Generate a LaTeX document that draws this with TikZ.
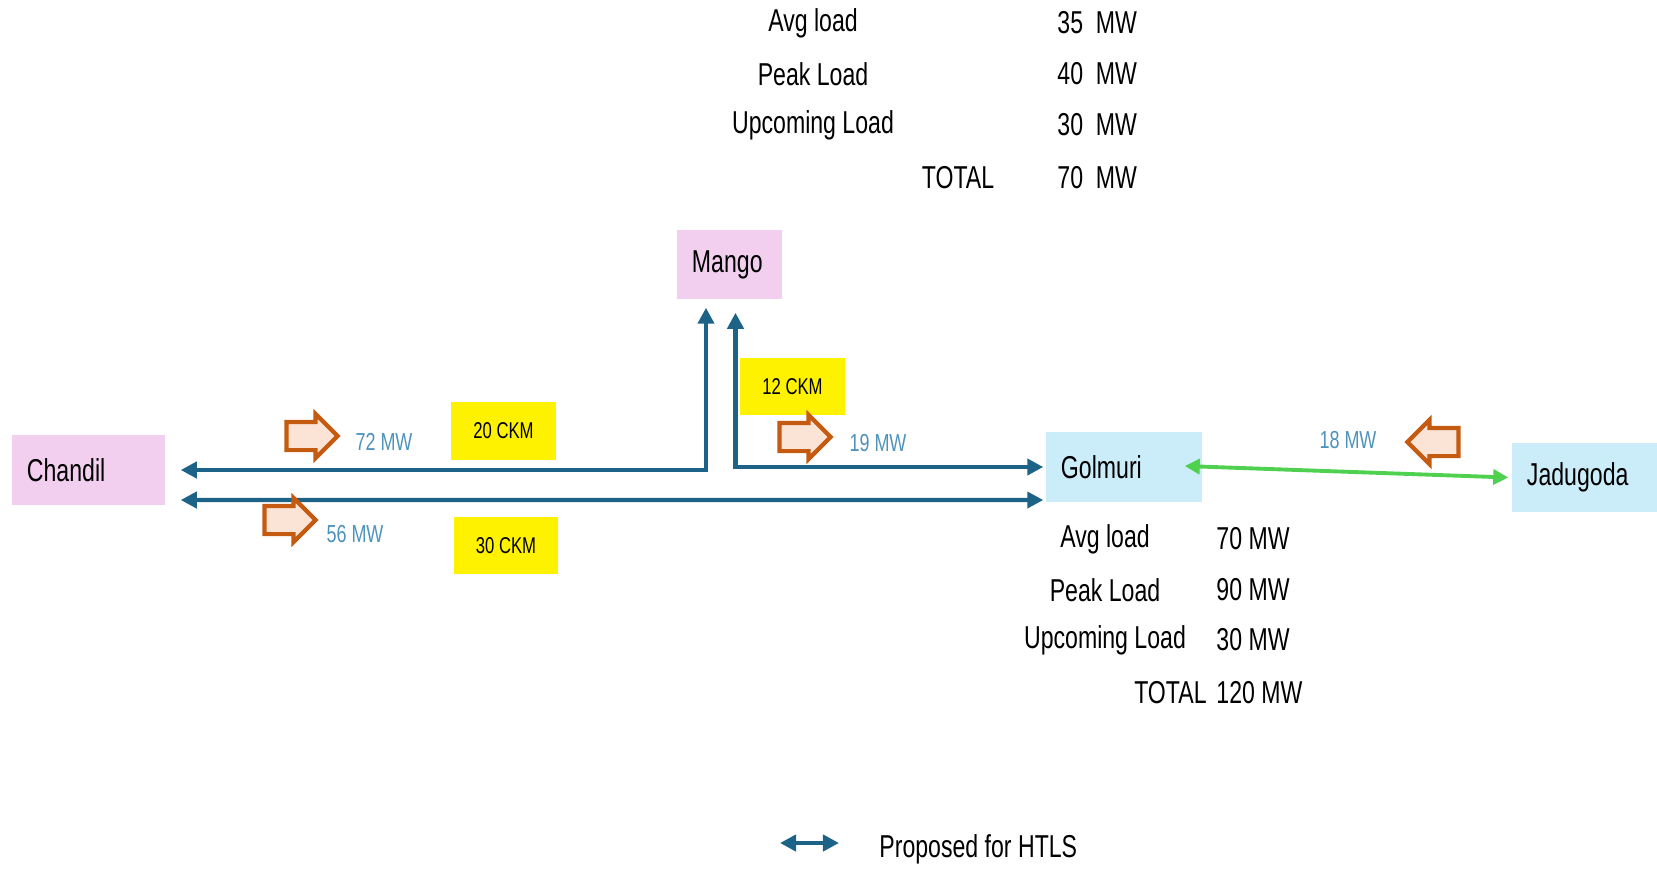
\documentclass[tikz,border=0pt]{standalone}
\usepackage{fontspec}
\setmainfont{Liberation Sans}[FakeStretch=0.73]
\usepackage{tikz}
\usetikzlibrary{arrows.meta,shapes.arrows}
\definecolor{htlsblue}{HTML}{1D6387}
\definecolor{pinkbox}{HTML}{F2CFEE}
\definecolor{bluebox}{HTML}{CBEDFA}
\definecolor{flowedge}{HTML}{C55A11}
\definecolor{flowfill}{HTML}{FBE3D6}
\definecolor{mwblue}{HTML}{4E93BC}
\definecolor{linkgreen}{HTML}{4FD14F}

\begin{document}
\begin{tikzpicture}[x=0.01cm,y=-0.01cm,font=\fontsize{9}{11}\selectfont,
  station/.style={inner xsep=0.15cm,align=left,minimum height=0.69cm},
  ckm/.style={fill=yellow,minimum width=1.04cm,minimum height=0.57cm,font=\fontsize{6.5}{8}\selectfont},
  mw/.style={text=mwblue,font=\fontsize{7}{8}\selectfont},
  flow/.style={single arrow,draw=flowedge,fill=flowfill,line width=1.2pt,inner xsep=0pt,inner ysep=0.12cm,minimum height=0.51cm,single arrow head extend=0.08cm},
  htls/.style={<->,>={Triangle[length=0.16cm,width=0.16cm]},htlsblue,line width=1.2pt},
  green/.style={<->,>={Triangle[length=0.15cm,width=0.15cm]},linkgreen,line width=1.1pt}]
\useasboundingbox (0,0) rectangle (1657,872);

% load table of Mango
\node (ma1) at (813,23) {Avg load};
\node (ma2) at (813,74) {Peak Load};
\node (ma3) at (813,125) {Upcoming Load};
\node (ma4) at (958,178) {TOTAL};
\node [anchor=west] (mv1) at (1045,23) {35~ MW};
\node [anchor=west] (mv2) at (1045,74) {40~ MW};
\node [anchor=west] (mv3) at (1045,125) {30~ MW};
\node [anchor=west] (mv4) at (1045,178) {70~ MW};

% substations
\node [station,fill=pinkbox,text width=0.75cm] (mango) at (729.5,264.5) {Mango};
\node [station,fill=pinkbox,text width=1.23cm] (chandil) at (88.5,470) {Chandil};
\node [station,fill=bluebox,text width=1.26cm] (golmuri) at (1124,467) {Golmuri};
\node [station,fill=bluebox,text width=1.30cm] (jadugoda) at (1592,477.5) {Jadugoda};

\node [ckm] (ck1) at (503.5,431) {20 CKM};
\node [ckm] (ck2) at (506,545.5) {30 CKM};
\node [ckm] (ck3) at (792.5,386.5) {12 CKM};

\draw [htls] ([xshift=0.15cm]chandil.east) -| ([xshift=-0.235cm,yshift=-0.08cm]mango.south);
\draw [htls] ([xshift=0.06cm,yshift=-0.13cm]mango.south) |- ([xshift=-0.02cm]golmuri.west);
\draw [htls] ([xshift=0.15cm,yshift=-0.30cm]chandil.east) -- ([xshift=-0.02cm,yshift=-0.33cm]golmuri.west);
\draw [green] ([xshift=-0.18cm,yshift=0.01cm]golmuri.east) -- ([xshift=-0.03cm]jadugoda.west);

% power flow
\node [flow] (f1) at (305,436) {};
\node [mw] (w1) at (384,442) {72 MW};
\node [flow] (f2) at (283,520) {};
\node [mw] (w2) at (355,534) {56 MW};
\node [flow] (f3) at (798,437) {};
\node [mw] (w3) at (878,443) {19 MW};
\node [flow,shape border rotate=180] (f4) at (1440,442) {};
\node [mw] (w4) at (1348,440) {18 MW};

% load table of Golmuri
\node (ga1) at (1105,539) {Avg load};
\node (ga2) at (1105,590) {Peak Load};
\node (ga3) at (1105,640) {Upcoming Load};
\node [anchor=east] (ga4) at (1219,693) {TOTAL};
\node [anchor=west] (gv1) at (1204,539) {70 MW};
\node [anchor=west] (gv2) at (1204,590) {90 MW};
\node [anchor=west] (gv3) at (1204,640) {30 MW};
\node [anchor=west] (gv4) at (1204,693) {120 MW};

% legend
\coordinate (leg1) at (780,843);
\coordinate (leg2) at (839,843);
\draw [htls] (leg1) -- (leg2);
\node [anchor=west] (note) at (867,849) {Proposed for HTLS};
\end{tikzpicture}
\end{document}
